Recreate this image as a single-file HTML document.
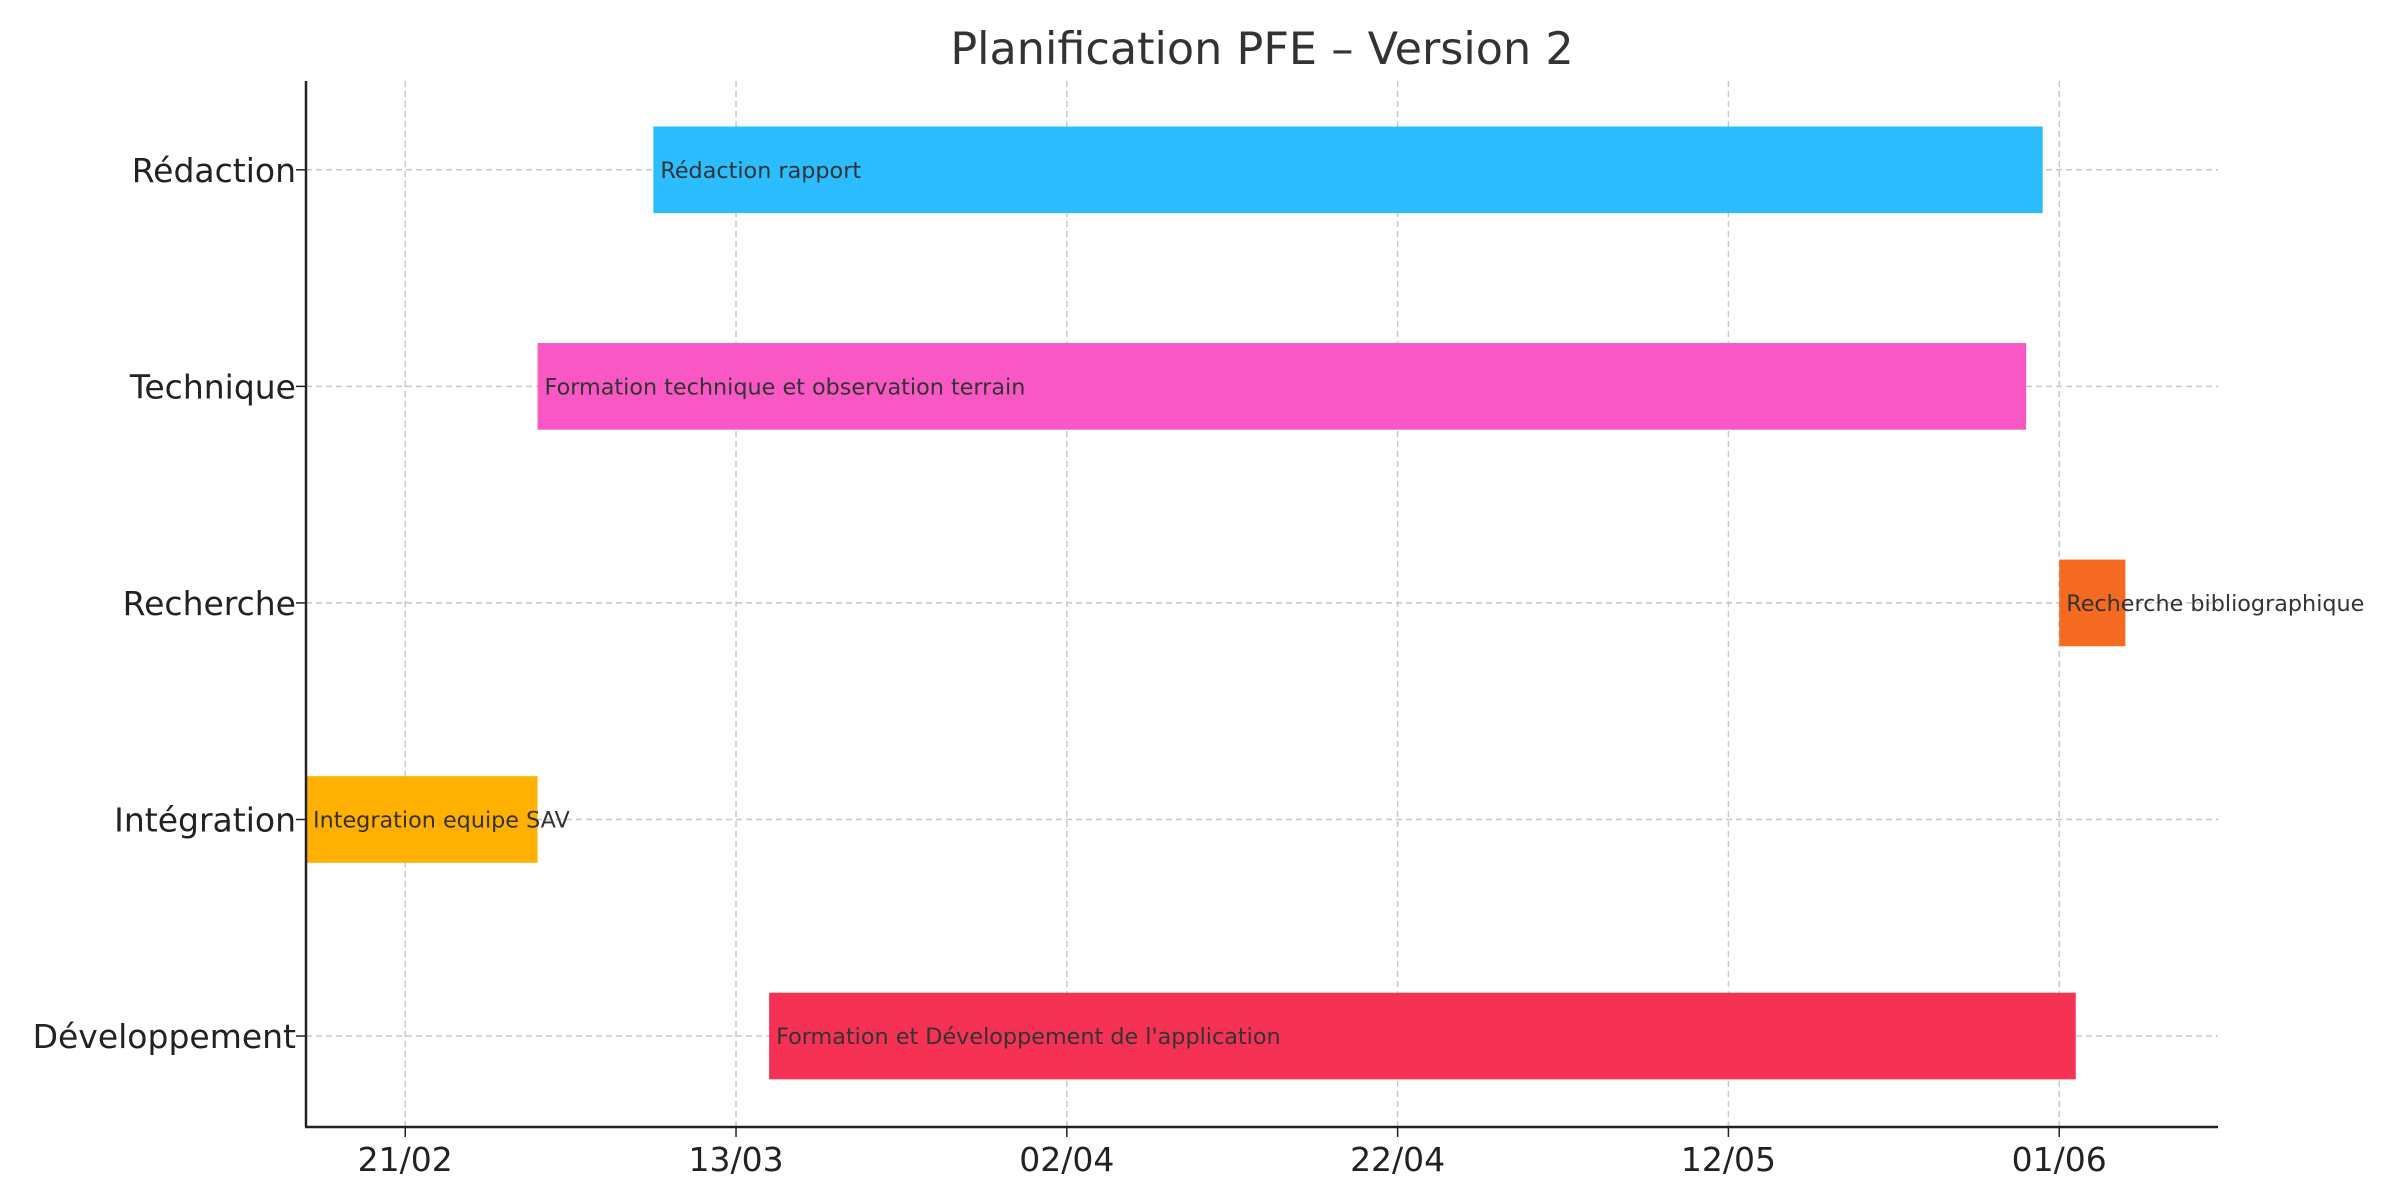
<!DOCTYPE html>
<html><head><meta charset="utf-8"><style>
html,body{margin:0;padding:0;background:#fff}
svg{display:block;font-family:"DejaVu Sans","Liberation Sans",sans-serif}
</style></head><body>
<svg id="chart" width="2400" height="1200" viewBox="0 0 2400 1200">
<text x="1262" y="64" text-anchor="middle" font-size="44.5" fill="#333">Planification PFE – Version 2</text>
<g id="grid"></g><g id="bars"></g><g id="axes"></g>
</svg>
<script>
const categories = ["Développement","Intégration","Recherche","Technique","Rédaction"];
const taskLabels = ["Formation et Développement de l'application","Integration equipe SAV","Recherche bibliographique","Formation technique et observation terrain","Rédaction rapport"];
const startDays = [22, -6, 100, 8, 15];
const endDays = [101, 8, 104, 98, 99];
const barColors = ["#f53154","#ffb000","#f46a21","#f957c4","#2bbdfd"];
const tickDays = [0,20,40,60,80,100];
const tickLabels = ["21/02","13/03","02/04","22/04","12/05","01/06"];

const L=306,R=2218,T=81,B=1127, xMin=-6, xMax=109.6, yMin=-0.42, yMax=4.41;
const sx=d=>L+(d-xMin)/(xMax-xMin)*(R-L);
const sy=i=>B-(i-yMin)/(yMax-yMin)*(B-T);
const NS="http://www.w3.org/2000/svg";
function mk(tag,attrs,parent,txt){const e=document.createElementNS(NS,tag);for(const k in attrs)e.setAttribute(k,attrs[k]);if(txt!==undefined)e.textContent=txt;parent.appendChild(e);return e;}
const grid=document.getElementById('grid'),bars=document.getElementById('bars'),axes=document.getElementById('axes');
tickDays.forEach((d,i)=>{
  const x=sx(d);
  const g=mk('line',{x1:x,x2:x,y1:T,y2:B,stroke:'#c8c8c8','stroke-width':1.5,'stroke-dasharray':'6,4'},grid);
  
  
  const t=mk('line',{x1:x,x2:x,y1:B,y2:B+10,stroke:'#222','stroke-width':1.5},axes);
  
  
  const lb=mk('text',{x:x,y:B+44,'text-anchor':'middle','font-size':33,fill:'#222'},axes,tickLabels[i]);
  
  
});
categories.forEach((c,i)=>{
  const y=sy(i);
  const g=mk('line',{x1:L,x2:R,y1:y,y2:y,stroke:'#c8c8c8','stroke-width':1.5,'stroke-dasharray':'6,4'},grid);
  
  
  const t=mk('line',{x1:L-10,x2:L,y1:y,y2:y,stroke:'#222','stroke-width':1.5},axes);
  
  
  const lb=mk('text',{x:L-10,y:y+12,'text-anchor':'end','font-size':33,fill:'#222'},axes,c);
  
  
  const h=(sy(0)-sy(1))*0.4;
  const x0=sx(startDays[i]),x1=sx(endDays[i]);
  const r=mk('rect',{x:x0,y:y-h/2,width:x1-x0,height:h,fill:barColors[i]},bars);
  
  
  const tl=mk('text',{x:x0+7,y:y+8,'font-size':22.3,fill:'#333'},bars,taskLabels[i]);
  
  
});
const ax1=mk('line',{x1:L,x2:L,y1:T,y2:B,stroke:'#222','stroke-width':2.5},axes);


const ax2=mk('line',{x1:L-1,x2:R,y1:B,y2:B,stroke:'#222','stroke-width':2.5},axes);


</script>
</body></html>
